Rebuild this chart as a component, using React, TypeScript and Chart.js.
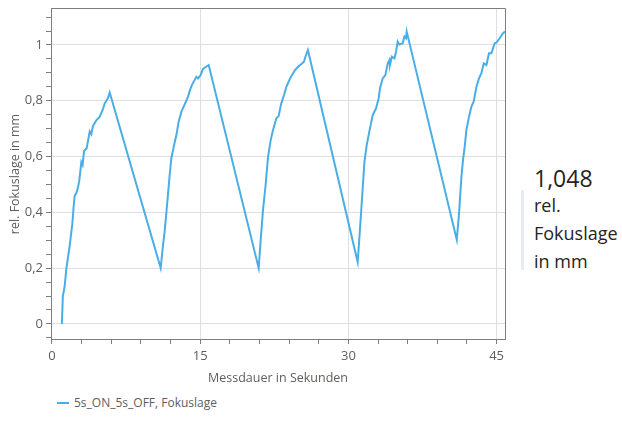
import React, { useEffect, useRef } from "react";
import { Chart, registerables } from "chart.js";

Chart.register(...registerables);

// ---- data ----
const seriesLabel = "5s_ON_5s_OFF, Fokuslage";
const xTitle = "Messdauer in Sekunden";
const yTitle = "rel. Fokuslage in mm";
const currentValueText = "1,048";
const currentValueLabel = ["rel.", "Fokuslage", "in mm"];

const timeSec = [
  1.0, 1.1, 1.28, 1.46, 1.79, 2.06, 2.19, 2.3, 2.46, 2.63, 2.75, 2.97, 3.1, 3.24, 3.51, 3.82, 3.98, 4.15, 4.49, 4.83, 5.16, 5.33, 5.5, 5.67, 5.84,
  11.0, 11.24, 11.4, 11.68, 11.91, 12.08, 12.35, 12.59, 12.82, 13.1, 13.43, 13.77, 13.97, 14.17, 14.44, 14.61, 14.78, 15.05, 15.28, 15.6, 15.86,
  20.92, 21.12, 21.36, 21.6, 21.87, 22.14, 22.37, 22.71, 22.94, 23.2, 23.48, 23.72, 24.06, 24.3, 24.56, 24.9, 25.24, 25.5, 25.65, 25.9,
  30.94, 31.11, 31.38, 31.62, 31.85, 32.12, 32.46, 32.8, 33.07, 33.2, 33.47, 33.74, 33.98, 34.15, 34.2, 34.4, 34.66, 34.82, 34.99, 35.16, 35.5, 35.67, 35.83, 35.9,
  40.97, 41.2, 41.44, 41.6, 41.77, 41.94, 42.21, 42.45, 42.68, 42.96, 43.22, 43.46, 43.7, 43.97, 44.23, 44.47, 44.64, 44.8, 44.98, 45.31, 45.65, 45.85,
];
const focusMm = [
  0.0, 0.1, 0.134, 0.2, 0.28, 0.36, 0.42, 0.46, 0.468, 0.49, 0.51, 0.58, 0.57, 0.62, 0.63, 0.69, 0.68, 0.71, 0.73, 0.743, 0.77, 0.79, 0.8, 0.81, 0.83,
  0.2, 0.283, 0.33, 0.44, 0.534, 0.594, 0.64, 0.677, 0.725, 0.761, 0.787, 0.815, 0.839, 0.857, 0.875, 0.886, 0.88, 0.892, 0.914, 0.922, 0.928,
  0.2, 0.3, 0.41, 0.49, 0.6, 0.66, 0.695, 0.737, 0.745, 0.79, 0.82, 0.85, 0.877, 0.892, 0.908, 0.922, 0.932, 0.94, 0.958, 0.982,
  0.222, 0.307, 0.45, 0.58, 0.64, 0.69, 0.749, 0.773, 0.81, 0.845, 0.88, 0.892, 0.934, 0.946, 0.928, 0.958, 0.952, 0.976, 1.012, 1.002, 1.006, 1.03, 1.024, 1.048,
  0.302, 0.397, 0.528, 0.588, 0.635, 0.695, 0.743, 0.779, 0.797, 0.85, 0.88, 0.899, 0.934, 0.928, 0.97, 0.97, 0.988, 1.006, 1.008, 1.024, 1.042, 1.048,
];

const xMajorTicks = [0, 15, 30, 45];
const xMajorLabels = ["0", "15", "30", "45"];
const xMinorTicks = [3, 6, 9, 12, 18, 21, 24, 27, 33, 36, 39, 42];
const yMajorTicks = [0, 0.2, 0.4, 0.6, 0.8, 1];
const yMajorLabels = ["0", "0,2", "0,4", "0,6", "0,8", "1"];
const yMinorTicks = [-0.05, 0.05, 0.1, 0.15, 0.25, 0.3, 0.35, 0.45, 0.5, 0.55, 0.65, 0.7, 0.75, 0.85, 0.9, 0.95, 1.05, 1.1];

const xMin = -0.1;
const xMax = 45.85;
const yMin = -0.054;
const yMax = 1.129;

// ---- styles ----
const FONT = "'Open Sans', 'Noto Sans', sans-serif";
const lineColor = "#4aaee6";
const gridColor = "#dedfe5";
const axisColor = "#7c7d85";
const tickTextColor = "#605e5c";
const titleColor = "#605e5c";

const findIdx = (arr: number[], v: number) => arr.findIndex((a) => Math.abs(a - v) < 1e-6);

const framePlugin = {
  id: "frame",
  afterDraw(chart: any) {
    const { ctx, chartArea } = chart;
    const { top, right } = chartArea;
    ctx.save();
    ctx.strokeStyle = axisColor;
    ctx.lineWidth = 1;
    ctx.beginPath();
    ctx.moveTo(chartArea.left, Math.round(top) - 0.5);
    ctx.lineTo(Math.round(right) + 0.5, Math.round(top) - 0.5);
    ctx.lineTo(Math.round(right) + 0.5, chartArea.bottom);
    ctx.stroke();
    ctx.restore();
  },
};

export default function App() {
  const ref = useRef<HTMLCanvasElement | null>(null);

  useEffect(() => {
    if (!ref.current) return;
    const chart = new Chart(ref.current, {
      type: "line",
      data: {
        datasets: [
          {
            label: seriesLabel,
            data: timeSec.map((t, i) => ({ x: t, y: focusMm[i] })),
            borderColor: lineColor,
            backgroundColor: lineColor,
            borderWidth: 2,
            pointRadius: 0,
            tension: 0,
            fill: false,
          },
        ],
      },
      options: {
        animation: false,
        responsive: false,
        maintainAspectRatio: false,
        layout: { padding: { top: 9, right: 5, left: 0, bottom: 0 } },
        plugins: { legend: { display: false }, tooltip: { enabled: false } },
        scales: {
          x: {
            type: "linear",
            min: xMin,
            max: xMax,
            afterBuildTicks: (s: any) => {
              s.ticks = [...xMajorTicks, ...xMinorTicks].sort((a, b) => a - b).map((v) => ({ value: v }));
            },
            afterFit: (s: any) => {
              s.height = 53;
              s.paddingLeft = 0;
              s.paddingRight = 0;
            },
            grid: {
              color: (c: any) => {
                const v = c.tick ? c.tick.value : NaN;
                return findIdx(xMajorTicks, v) > 0 ? gridColor : "rgba(0,0,0,0)";
              },
              tickColor: axisColor,
              tickLength: 5,
              drawTicks: true,
            },
            border: { color: axisColor, width: 1 },
            ticks: {
              autoSkip: false,
              maxRotation: 0,
              padding: 4,
              color: tickTextColor,
              font: { family: FONT, size: 13 },
              callback: (v: any) => {
                const i = findIdx(xMajorTicks, Number(v));
                return i >= 0 ? xMajorLabels[i] : "";
              },
            },
            title: {
              display: true,
              text: xTitle,
              color: titleColor,
              font: { family: FONT, size: 12.5 },
              padding: { top: 0, bottom: 6.5 },
            },
          },
          y: {
            type: "linear",
            min: yMin,
            max: yMax,
            afterBuildTicks: (s: any) => {
              s.ticks = [...yMajorTicks, ...yMinorTicks].sort((a, b) => a - b).map((v) => ({ value: v }));
            },
            afterFit: (s: any) => {
              s.width = 51;
              s.paddingTop = 0;
              s.paddingBottom = 0;
            },
            grid: {
              color: (c: any) => {
                const v = c.tick ? c.tick.value : NaN;
                return findIdx(yMajorTicks, v) >= 0 ? gridColor : "rgba(0,0,0,0)";
              },
              tickColor: axisColor,
              tickLength: 5,
              drawTicks: true,
            },
            border: { color: axisColor, width: 1 },
            ticks: {
              autoSkip: false,
              padding: 3,
              color: tickTextColor,
              font: { family: FONT, size: 13 },
              callback: (v: any) => {
                const i = findIdx(yMajorTicks, Number(v));
                return i >= 0 ? yMajorLabels[i] : "";
              },
            },
            title: {
              display: true,
              text: yTitle,
              color: titleColor,
              font: { family: FONT, size: 12.5 },
              padding: { top: 7.5, bottom: 0 },
            },
          },
        },
      },
      plugins: [framePlugin],
    } as any);
    return () => chart.destroy();
  }, []);

  return (
    <div style={{ position: "absolute", left: 0, top: 0, width: 622, height: 421, background: "#fff", fontFamily: FONT }}>
      <canvas ref={ref} width={510} height={392} style={{ position: "absolute", left: 0, top: 0, width: 510, height: 392 }} />
      {/* legend */}
      <div style={{ position: "absolute", left: 57, top: 402, width: 12, height: 2, background: lineColor }} />
      <div style={{ position: "absolute", left: 74, top: 394, fontSize: 12, lineHeight: "17px", color: tickTextColor, whiteSpace: "nowrap" }}>
        {seriesLabel}
      </div>
      {/* current value card */}
      <div style={{ position: "absolute", left: 521, top: 190, width: 3, height: 80, background: "#e6eaf1" }} />
      <div style={{ position: "absolute", left: 534, top: 164, fontSize: 23, lineHeight: "28px", color: "#252423", whiteSpace: "nowrap" }}>
        {currentValueText}
      </div>
      <div style={{ position: "absolute", left: 534, top: 191, fontSize: 18, lineHeight: "28px", color: "#252423", whiteSpace: "nowrap" }}>
        {currentValueLabel.map((l, i) => (
          <div key={i}>{l}</div>
        ))}
      </div>
    </div>
  );
}
